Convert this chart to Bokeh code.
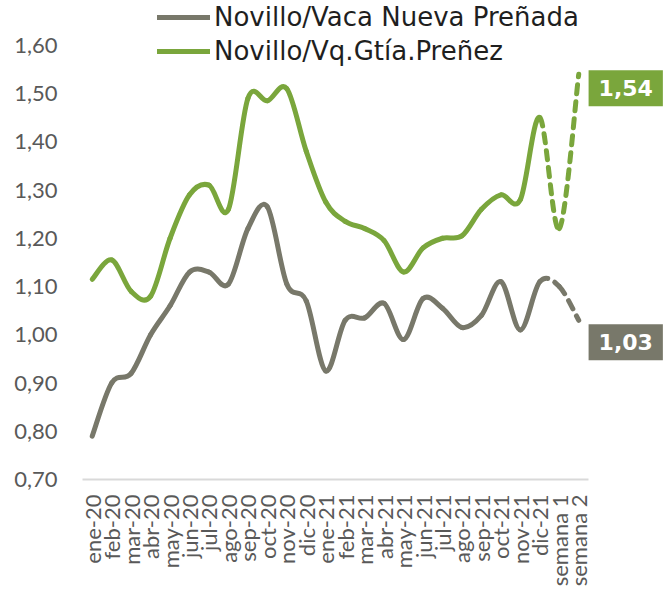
import math
from bokeh.plotting import figure
from bokeh.models import (Range1d, FixedTicker, CustomJSTickFormatter, Legend,
                          LegendItem, Label, ColumnDataSource)
from bokeh.embed import file_html
from bokeh.resources import INLINE

# ---- data ----
categories = ["ene-20", "feb-20", "mar-20", "abr-20", "may-20", "jun-20", "jul-20",
              "ago-20", "sep-20", "oct-20", "nov-20", "dic-20", "ene-21", "feb-21",
              "mar-21", "abr-21", "may-21", "jun-21", "jul-21", "ago-21", "sep-21",
              "oct-21", "nov-21", "dic-21", "semana 1", "semana 2"]
vaca_nueva = [0.79, 0.90, 0.92, 1.00, 1.06, 1.13, 1.13, 1.105, 1.22, 1.265, 1.105, 1.07,
              0.925, 1.03, 1.035, 1.065, 0.99, 1.075, 1.055, 1.015, 1.04, 1.11, 1.01,
              1.11, 1.10, 1.03]
vq_gtia = [1.115, 1.155, 1.09, 1.08, 1.20, 1.29, 1.31, 1.26, 1.49, 1.485, 1.51, 1.38,
           1.275, 1.235, 1.22, 1.195, 1.13, 1.18, 1.20, 1.205, 1.26, 1.29, 1.28,
           1.45, 1.22, 1.54]
y_ticks = [0.70, 0.80, 0.90, 1.00, 1.10, 1.20, 1.30, 1.40, 1.50, 1.60]
series_names = ["Novillo/Vaca Nueva Preñada", "Novillo/Vq.Gtía.Preñez"]

GRAY = "#78786a"
GREEN = "#7aa63c"
n_solid = categories.index("dic-21")  # segments from this index on are dashed


def bezier_source(vals, seg_range):
    """Catmull-Rom style smooth segments (like Excel's smoothed line)."""
    n = len(vals)
    d = dict(x0=[], y0=[], x1=[], y1=[], cx0=[], cy0=[], cx1=[], cy1=[])
    for i in seg_range:
        ip = max(i - 1, 0)
        i2 = min(i + 2, n - 1)
        d["x0"].append(i); d["y0"].append(vals[i])
        d["x1"].append(i + 1); d["y1"].append(vals[i + 1])
        d["cx0"].append(i + (i + 1 - ip) / 6); d["cy0"].append(vals[i] + (vals[i + 1] - vals[ip]) / 6)
        d["cx1"].append(i + 1 - (i2 - i) / 6); d["cy1"].append(vals[i + 1] - (vals[i2] - vals[i]) / 6)
    return ColumnDataSource(d)


W, H = 668, 598
LEFT = 82
BOTTOM = 119
FRAME_H = H - BOTTOM
PX_PER_UNIT = 482.5
CAT_W = 19.46
x_end = -0.5 + (W - LEFT) / CAT_W
y_end = y_ticks[0] + FRAME_H / PX_PER_UNIT

p = figure(width=W, height=H, output_backend="svg", toolbar_location=None,
           x_range=Range1d(-0.5, x_end), y_range=Range1d(y_ticks[0], y_end),
           min_border_left=LEFT, min_border_right=0, min_border_top=0,
           min_border_bottom=BOTTOM)
p.outline_line_color = None
p.grid.visible = False
p.background_fill_color = "white"

renderers = []
for vals, col in [(vaca_nueva, GRAY), (vq_gtia, GREEN)]:
    n = len(vals)
    src_s = bezier_source(vals, range(0, n_solid))
    src_d = bezier_source(vals, range(n_solid, n - 1))
    r = p.bezier(x0="x0", y0="y0", x1="x1", y1="y1", cx0="cx0", cy0="cy0",
                 cx1="cx1", cy1="cy1", source=src_s, line_color=col, line_width=5,
                 line_cap="round", line_join="round")
    p.bezier(x0="x0", y0="y0", x1="x1", y1="y1", cx0="cx0", cy0="cy0",
             cx1="cx1", cy1="cy1", source=src_d, line_color=col, line_width=5,
             line_cap="round", line_dash="9 8")
    renderers.append(r)

# axes
xa = p.xaxis[0]
xa.ticker = FixedTicker(ticks=list(range(len(categories))))
xa.major_label_overrides = {i: c for i, c in enumerate(categories)}
xa.major_label_orientation = math.pi / 2
xa.bounds = (-0.5, len(categories) - 0.5)
xa.axis_line_color = "#d9d9d9"
xa.axis_line_width = 2
xa.major_tick_line_color = None
xa.minor_tick_line_color = None
xa.major_tick_out = 0
xa.major_tick_in = 0
xa.minor_tick_out = 0
xa.minor_tick_in = 0
xa.major_label_standoff = 15
xa.major_label_text_font = "Lato"
xa.major_label_text_font_size = "22px"
xa.major_label_text_color = "#595959"

ya = p.yaxis[0]
ya.ticker = FixedTicker(ticks=y_ticks)
ya.formatter = CustomJSTickFormatter(code="return tick.toFixed(2).replace('.', ',');")
ya.axis_line_color = None
ya.major_tick_line_color = None
ya.minor_tick_line_color = None
ya.major_tick_out = 0
ya.major_tick_in = 0
ya.minor_tick_out = 0
ya.minor_tick_in = 0
ya.major_label_standoff = 25
ya.major_label_text_font = "Lato"
ya.major_label_text_font_size = "22px"
ya.major_label_text_color = "#595959"

# legend
LEG_H = 2 * 28 + 4
legend = Legend(items=[LegendItem(label=series_names[0], renderers=[renderers[0]]),
                       LegendItem(label=series_names[1], renderers=[renderers[1]])],
                location=(75, FRAME_H - LEG_H - 6), orientation="vertical",
                glyph_width=53, glyph_height=28, label_height=28, spacing=4,
                label_standoff=4, padding=0, margin=0,
                background_fill_alpha=0, border_line_color=None,
                label_text_font="DejaVu Sans", label_text_font_size="26px",
                label_text_color="#1f1f1f")
p.add_layout(legend)

# end value labels
last = len(categories) - 1
for vals, col, dy in [(vq_gtia, GREEN, -14), (vaca_nueva, GRAY, -22)]:
    txt = f"{vals[-1]:.2f}".replace(".", ",")
    lab = Label(x=last, y=vals[-1], x_offset=47, y_offset=dy, text=txt,
                text_align="center", text_baseline="middle",
                text_font="DejaVu Sans", text_font_style="bold",
                text_font_size="22px", text_color="white",
                background_fill_color=col, padding=10)
    p.add_layout(lab)

open("out.html", "w").write(file_html(p, INLINE))
